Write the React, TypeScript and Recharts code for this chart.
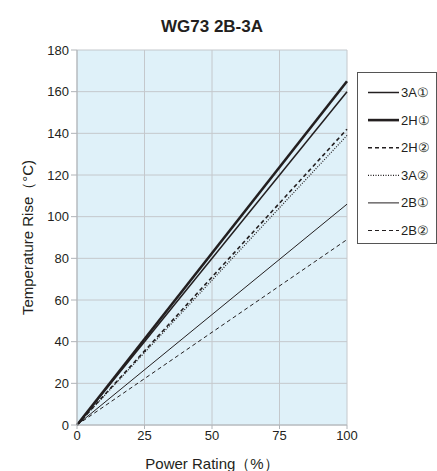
import { LineChart, Line, XAxis, YAxis, CartesianGrid, Label } from "recharts";

const powerRating = [0, 100];
const s3A1 = [0, 160];
const s2H1 = [0, 165];
const s2H2 = [0, 142];
const s3A2 = [0, 139];
const s2B1 = [0, 106];
const s2B2 = [0, 89];
const xTicks = [0, 25, 50, 75, 100];
const yTicks = [0, 20, 40, 60, 80, 100, 120, 140, 160, 180];

const data = powerRating.map((p, i) => ({
  p,
  "3A①": s3A1[i],
  "2H①": s2H1[i],
  "2H②": s2H2[i],
  "3A②": s3A2[i],
  "2B①": s2B1[i],
  "2B②": s2B2[i],
}));

const series = [
  { key: "3A①", width: 1.5, dash: undefined },
  { key: "2H①", width: 2.6, dash: undefined },
  { key: "2H②", width: 1.6, dash: "4 3" },
  { key: "3A②", width: 1.2, dash: "1 1.5" },
  { key: "2B①", width: 1, dash: undefined },
  { key: "2B②", width: 1, dash: "4 3" },
];

const font = "'Liberation Sans', Arial, sans-serif";

export default function App() {
  return (
    <div style={{ position: "absolute", left: 0, top: 0, width: 437, height: 471, background: "#fff", fontFamily: font }}>
      <div style={{ position: "absolute", left: 0, width: 424, top: 17, textAlign: "center", fontSize: 17, fontWeight: 600, color: "#231f20" }}>
        WG73 2B-3A
      </div>
      <LineChart width={437} height={471} data={data} margin={{ top: 50, right: 90, bottom: 0, left: 0 }}>
        <CartesianGrid fill="#dff1f9" stroke="#c4c8cc" strokeWidth={1} />
        <XAxis
          dataKey="p"
          type="number"
          domain={[0, 100]}
          ticks={xTicks}
          stroke="#b0b4b8"
          tickSize={4}
          tick={{ fill: "#231f20", fontSize: 13, fontFamily: font }}
          height={46}
        >
          <Label value="Power Rating（%）" position="insideBottom" offset={2} style={{ fill: "#231f20", fontSize: 15, fontFamily: font }} />
        </XAxis>
        <YAxis
          type="number"
          domain={[0, 180]}
          ticks={yTicks}
          stroke="#b0b4b8"
          tickSize={6}
          tick={{ fill: "#231f20", fontSize: 13, fontFamily: font }}
          width={77}
        >
          <Label value="Temperature Rise（°C)" angle={-90} position="insideLeft" offset={28} style={{ textAnchor: "middle", fill: "#231f20", fontSize: 15, fontFamily: font }} />
        </YAxis>
        {series.map((s) => (
          <Line
            key={s.key}
            dataKey={s.key}
            stroke="#231f20"
            strokeWidth={s.width}
            strokeDasharray={s.dash}
            dot={false}
            activeDot={false}
            isAnimationActive={false}
          />
        ))}
      </LineChart>
      <div style={{ position: "absolute", left: 357, top: 72, width: 80, height: 172, border: "1px solid #555", boxSizing: "border-box", background: "#fff" }}>
        <svg width={80} height={172}>
          {series.map((s, i) => (
            <g key={s.key} transform={`translate(0, ${19.5 + i * 27.6})`}>
              <line x1={10} x2={41} y1={0} y2={0} stroke="#231f20" strokeWidth={s.width} strokeDasharray={s.dash} />
              <text x={43} y={4.5} fontSize={13} fill="#231f20" fontFamily={font}>{s.key}</text>
            </g>
          ))}
        </svg>
      </div>
    </div>
  );
}
